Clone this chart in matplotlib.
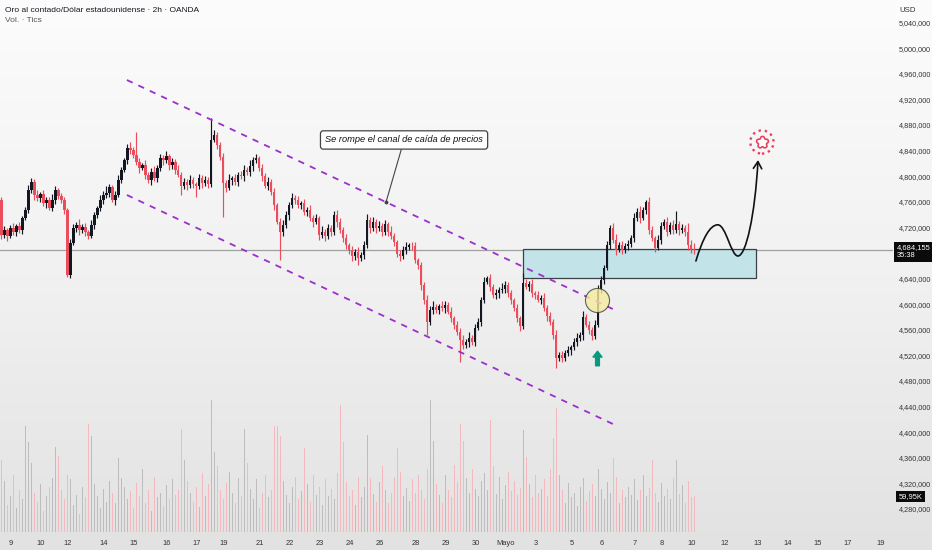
import numpy as np
import matplotlib
matplotlib.use("Agg")
import matplotlib.pyplot as plt
from matplotlib import font_manager
from matplotlib.patches import Rectangle, FancyArrowPatch
from matplotlib.path import Path

# ---- data (prices in thousands, volumes in K) ----
open_first = 4763
closes = [
    4708, 4716, 4706, 4719, 4713, 4722, 4716, 4735, 4747, 4778, 4791, 4771, 4766, 4772, 4758, 4763, 4750, 4763, 4778, 4769,
    4763, 4747, 4646, 4696, 4719, 4724, 4716, 4721, 4713, 4706, 4724, 4739, 4750, 4763, 4771, 4774, 4783, 4763, 4771, 4794,
    4810, 4825, 4844, 4841, 4833, 4822, 4813, 4817, 4802, 4794, 4807, 4797, 4813, 4828, 4825, 4831, 4817, 4822, 4810, 4802,
    4785, 4791, 4786, 4794, 4788, 4785, 4797, 4789, 4794, 4788, 4857, 4864, 4849, 4830, 4789, 4782, 4794, 4797, 4791, 4802,
    4800, 4810, 4807, 4816, 4825, 4828, 4813, 4800, 4785, 4791, 4775, 4755, 4729, 4713, 4724, 4739, 4755, 4766, 4763, 4755,
    4758, 4744, 4747, 4735, 4729, 4735, 4708, 4713, 4706, 4719, 4713, 4739, 4729, 4716, 4703, 4692, 4685, 4675, 4681, 4672,
    4677, 4692, 4732, 4719, 4729, 4719, 4722, 4713, 4725, 4713, 4706, 4697, 4678, 4675, 4685, 4689, 4692, 4691, 4669, 4661,
    4630, 4607, 4572, 4591, 4596, 4591, 4597, 4594, 4599, 4588, 4578, 4568, 4557, 4544, 4536, 4541, 4547, 4541, 4563, 4572,
    4607, 4635, 4641, 4627, 4614, 4617, 4622, 4624, 4630, 4617, 4607, 4594, 4578, 4566, 4633, 4627, 4632, 4617, 4614, 4607,
    4610, 4594, 4582, 4572, 4552, 4516, 4521, 4516, 4524, 4528, 4533, 4541, 4547, 4552, 4580, 4568, 4560, 4550, 4568, 4622,
    4638, 4657, 4692, 4719, 4700, 4685, 4692, 4685, 4691, 4694, 4703, 4735, 4744, 4735, 4747, 4760, 4716, 4703, 4688, 4700,
    4722, 4728, 4713, 4724, 4716, 4725, 4716, 4719, 4713, 4692, 4685, 4684.155,
]
wick_up = [
    4, 6, 3, 5, 8, 4, 6, 3, 5, 9, 6, 4, 8, 3, 7, 5, 4, 9, 6, 3,
    5, 4, 3, 6, 7, 4, 9, 5, 6, 3, 8, 5, 4, 7, 6, 10, 5, 4, 6, 8,
    5, 4, 6, 9, 5, 36, 7, 4, 8, 5, 6, 9, 4, 7, 5, 8, 4, 6, 5, 7,
    4, 6, 5, 8, 4, 3, 7, 5, 6, 4, 34, 8, 5, 4, 6, 5, 9, 4, 7, 5,
    6, 8, 4, 9, 5, 7, 4, 6, 5, 8, 4, 6, 3, 5, 7, 6, 4, 8, 5, 6,
    4, 7, 5, 8, 4, 6, 3, 9, 5, 7, 4, 6, 8, 5, 4, 7, 3, 6, 5, 8,
    4, 6, 9, 5, 7, 4, 8, 5, 6, 4, 9, 5, 3, 7, 6, 8, 4, 5, 6, 3,
    5, 4, 7, 6, 9, 5, 4, 8, 6, 5, 7, 4, 5, 6, 8, 4, 9, 5, 6, 7,
    5, 8, 3, 6, 4, 7, 5, 9, 6, 4, 5, 3, 6, 4, 16, 7, 5, 8, 4, 6,
    5, 7, 4, 6, 5, 8, 4, 6, 5, 7, 4, 6, 8, 5, 9, 4, 6, 5, 7, 8,
    6, 5, 7, 4, 8, 9, 5, 6, 4, 7, 5, 8, 6, 9, 5, 3, 7, 6, 4, 8,
    6, 5, 9, 4, 7, 21, 5, 6, 4, 14, 8, 10,
]
wick_dn = [
    6, 4, 8, 3, 5, 7, 4, 6, 3, 5, 4, 8, 5, 6, 4, 7, 3, 5, 6, 4,
    5, 6, 3, 5, 4, 6, 8, 5, 7, 4, 3, 6, 5, 4, 7, 5, 6, 3, 8, 4,
    5, 4, 6, 7, 5, 4, 8, 3, 6, 5, 7, 4, 6, 5, 8, 4, 7, 5, 6, 4,
    14, 5, 7, 4, 6, 17, 5, 8, 4, 6, 5, 4, 7, 5, 53, 6, 4, 8, 5, 6,
    4, 7, 5, 6, 8, 4, 5, 7, 4, 6, 5, 8, 4, 44, 6, 5, 7, 4, 6, 5,
    7, 4, 6, 5, 8, 4, 8, 5, 7, 4, 6, 5, 8, 4, 6, 5, 7, 8, 6, 11,
    5, 6, 4, 7, 5, 8, 4, 6, 5, 7, 4, 6, 5, 8, 4, 6, 5, 7, 4, 6,
    8, 6, 20, 5, 7, 4, 6, 5, 8, 4, 6, 7, 5, 34, 6, 4, 8, 5, 7, 4,
    6, 5, 4, 7, 5, 6, 8, 4, 6, 5, 7, 4, 6, 8, 5, 4, 7, 5, 6, 4,
    6, 5, 8, 4, 7, 16, 5, 6, 4, 5, 7, 4, 6, 5, 8, 4, 6, 6, 5, 4,
    5, 7, 4, 6, 5, 8, 4, 6, 5, 7, 4, 6, 5, 8, 4, 6, 7, 5, 6, 4,
    6, 5, 7, 4, 6, 5, 8, 4, 6, 7, 5, 6,
]
volumes = [
    120, 85, 45, 60, 95, 40, 70, 55, 178, 150, 115, 65, 50, 80, 35, 60, 75, 90, 142, 127,
    70, 55, 95, 88, 45, 62, 30, 75, 58, 180, 160, 80, 60, 40, 72, 50, 85, 66, 48, 123,
    90, 75, 55, 68, 40, 82, 60, 105, 48, 70, 36, 92, 58, 65, 44, 78, 55, 88, 62, 70,
    173, 120, 85, 66, 50, 75, 42, 98, 60, 80, 220, 133, 110, 70, 55, 82, 100, 65, 48, 90,
    60, 173, 115, 72, 55, 88, 40, 66, 95, 58, 70, 178, 178, 160, 85, 62, 48, 76, 92, 55,
    68, 140, 80, 50, 95, 62, 75, 45, 88, 60, 72, 56, 98, 212, 150, 84, 60, 70, 45, 92,
    58, 76, 163, 90, 64, 50, 84, 110, 70, 48, 66, 92, 140, 100, 60, 74, 52, 88, 66, 95,
    70, 55, 105, 220, 153, 80, 62, 48, 95, 70, 58, 112, 84, 180, 153, 90, 66, 105, 72, 60,
    85, 98, 70, 187, 110, 64, 92, 55, 78, 100, 68, 86, 62, 74, 170, 125, 80, 58, 95, 66,
    72, 88, 60, 105, 157, 207, 95, 70, 48, 82, 58, 66, 44, 75, 90, 52, 68, 80, 60, 105,
    72, 55, 84, 66, 123, 92, 48, 70, 58, 76, 62, 88, 54, 70, 95, 60, 74, 120, 66, 50,
    82, 60, 72, 56, 90, 120, 64, 78, 48, 86, 58, 59.95,
]
day_labels = ["9", "10", "12", "14", "15", "16", "17", "19", "21", "22", "23", "24", "26", "28",
              "29", "30", "Mayo", "3", "5", "6", "7", "8", "10", "12", "13", "14", "15", "17", "19"]
day_bars = [3, 13, 22, 34, 44, 55, 65, 74, 86, 96, 106, 116, 126, 138,
            148, 158, 168, 178, 190, 200, 211, 220, 230, 241, 252, 262, 272, 282, 293]
price_ticks = [4280, 4320, 4360, 4400, 4440, 4480, 4520, 4560, 4600, 4640, 4720,
               4760, 4800, 4840, 4880, 4920, 4960, 5000, 5040]

# drawings (bar index, price)
channel_top = ([41.8, 204.5], [4950.3, 4590.9])
channel_bottom = ([41.8, 204.5], [4770.6, 4411.3])
zone_bars = (173.7, 251.4)
zone_prices = (4640.5, 4685.8)
breakout_pt = (198.5, 4606.6)
signal_pt = (198.5, 4516.0)
target_pt = (253.5, 4853.4)
note_xy = (128.2, 4759.7)
note_text_xy = (134.2, 4856.6)
proj_x = [231.5, 233.8, 236.2, 238.8, 241.5, 243.2, 245.5, 248.2, 251.2, 252.2]
proj_y = [4667.5, 4703.4, 4724.0, 4724.0, 4724.0, 4675.3, 4675.3, 4675.3, 4739.4, 4825.3]

# ---- fonts ----
avail = {f.name for f in font_manager.fontManager.ttflist}
narrow = "Liberation Sans Narrow" if "Liberation Sans Narrow" in avail else "Liberation Sans"
plt.rcParams["font.family"] = [narrow, "DejaVu Sans"]

UP = "#131722"
DOWN = "#eb4d5c"

opens = [open_first] + closes[:-1]
x = np.arange(len(closes))
o = np.array(opens, dtype=float)
c = np.array(closes, dtype=float)
hi = np.maximum(o, c) + np.array(wick_up)
lo = np.minimum(o, c) - np.array(wick_dn)
up = c >= o
cols = np.where(up, UP, DOWN)

fig = plt.figure(figsize=(9.32, 5.5), dpi=100)

# background gradient
bg = fig.add_axes([0, 0, 1, 1], zorder=-10)
grad = np.linspace(0, 1, 256).reshape(-1, 1)
bg.imshow(grad, aspect="auto", cmap=matplotlib.colors.LinearSegmentedColormap.from_list(
    "bg", ["#fcfcfc", "#f1f1f1", "#e2e2e2"]), extent=[0, 1, 0, 1])
bg.axis("off")

ax = fig.add_axes([0, 16 / 550, 893 / 932, 534 / 550])
ax.patch.set_alpha(0)
ax.set_xlim(-0.5, 297.2)
ax.set_ylim(4240.9, 5075.3)

# volume
axv = ax.twinx()
axv.set_ylim(-3, 888)
vcols = np.where(up, "#bdbdbd", "#f4b8bd")
axv.bar(x, volumes, width=0.36, color=vcols, zorder=1)
axv.set_yticks([])
for s in axv.spines.values():
    s.set_visible(False)
ax.set_zorder(axv.get_zorder() + 1)

# candles
ax.vlines(x, lo, hi, color=cols, lw=0.85, zorder=3)
body = np.where(np.abs(c - o) < 1.2, 1.2, c - o)
ax.bar(x, body, bottom=o, width=0.68, color=cols, zorder=4)

# last price line
ax.axhline(closes[-1], color="#a0a0a0", lw=0.9, zorder=2)

# channel
ax.plot(*channel_top, color="#9c2fcb", lw=1.3, ls=(0, (3.5, 3.5)), zorder=5)
ax.plot(*channel_bottom, color="#9c2fcb", lw=1.3, ls=(0, (3.5, 3.5)), zorder=5)

# zone
ax.add_patch(Rectangle((zone_bars[0], zone_prices[0]), zone_bars[1] - zone_bars[0],
                       zone_prices[1] - zone_prices[0], facecolor="#bde2e8", edgecolor="#2b2f36",
                       lw=0.9, alpha=0.9, zorder=2))

# breakout circle and signal arrow
ax.scatter(*breakout_pt, s=300, facecolor="#f6ec9e", edgecolor="#3a3a3a", lw=0.8, alpha=0.8, zorder=6)
arrow_marker = Path([(0, 1), (0.62, 0.2), (0.26, 0.2), (0.26, -1), (-0.26, -1), (-0.26, 0.2),
                     (-0.62, 0.2), (0, 1)], closed=True)
ax.scatter(*signal_pt, s=110, marker=arrow_marker, color="#089981", zorder=6)

# target icon
t = np.linspace(0, 2 * np.pi, 200)
r = 1 + 0.22 * np.cos(5 * t) - 0.12 * np.abs(np.cos(5 * t / 2)) ** 8
flower = Path(np.column_stack([r * np.sin(t), r * np.cos(t)]), closed=True)
ax.scatter(*target_pt, s=75, marker=flower, facecolor="white", edgecolor="#e8405f", lw=1.2, zorder=6)
ax.scatter(*target_pt, s=280, marker="o", facecolor="none", edgecolor="#e8405f", lw=1.7,
           linestyles=":", zorder=6)

# projection path
codes = [Path.MOVETO] + [Path.CURVE4] * 9
proj = FancyArrowPatch(path=Path(np.column_stack([proj_x, proj_y]), codes),
                       arrowstyle="->,head_length=0.5,head_width=0.3", mutation_scale=10,
                       color="#111111", lw=1.2, shrinkA=0, shrinkB=0, zorder=7)
ax.add_patch(proj)

# note
ax.annotate("Se rompe el canal de caída de precios", xy=note_xy, xytext=note_text_xy,
            ha="center", va="center", fontsize=6.7, style="italic", color="#111111",
            bbox=dict(boxstyle="round,pad=0.5,rounding_size=0.3", fc="white", ec="#444444", lw=0.9),
            arrowprops=dict(arrowstyle="-", color="#444444", lw=0.8, shrinkA=0, shrinkB=0), zorder=8)
ax.plot(*note_xy, "o", ms=1.8, color="#444444", zorder=8)

# axes styling
for s in ax.spines.values():
    s.set_visible(False)
ax.yaxis.tick_right()
ax.set_yticks(price_ticks)
ax.set_yticklabels([f"{int(round(v * 1000)):,}" for v in price_ticks])
ax.tick_params(axis="y", length=0, pad=4, labelsize=5.2, labelcolor="#333333")
ax.set_xticks(day_bars)
ax.set_xticklabels(day_labels)
ax.tick_params(axis="x", length=0, pad=4, labelsize=5.4, labelcolor="#333333")

# price and volume tags
last = closes[-1]
ax.annotate(f"{int(round(last * 1000)):,}\n35:38", xy=(1.0, last), xycoords=("axes fraction", "data"),
            xytext=(2.5, 4.5), textcoords="offset points", ha="left", va="top", fontsize=5.4,
            color="white", linespacing=1.25,
            bbox=dict(boxstyle="square,pad=0.3", fc="#0b0b0b", ec="none"), annotation_clip=False)
axv.annotate("59,95K", xy=(1.0, volumes[-1]), xycoords=("axes fraction", "data"),
             xytext=(4, 0), textcoords="offset points", ha="left", va="center", fontsize=5.4,
             color="white", bbox=dict(boxstyle="square,pad=0.3", fc="#0b0b0b", ec="none"),
             annotation_clip=False)

fig.text(908 / 932, 1 - 11 / 550, "USD", ha="center", va="center", fontsize=5.6, color="#333333",
         bbox=dict(boxstyle="square,pad=0.5", fc="#fcfcfc", ec="none"))
fig.text(5 / 932, 1 - 10 / 550, "Oro al contado/Dólar estadounidense · 2h · OANDA", ha="left",
         va="center", fontsize=6, color="#131722")
fig.text(5 / 932, 1 - 21 / 550, "Vol. · Tics", ha="left", va="center", fontsize=6, color="#555555")

fig.savefig("out.png", dpi=100)
